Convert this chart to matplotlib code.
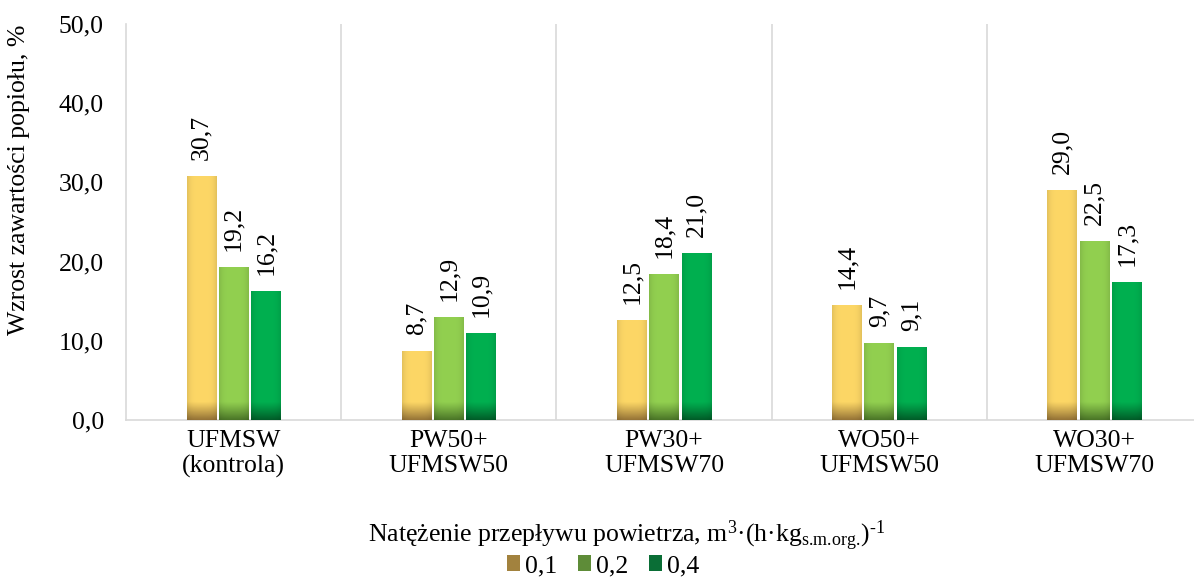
import numpy as np
import matplotlib
matplotlib.use("Agg")
import matplotlib.pyplot as plt
from matplotlib.patches import Patch

plt.rcParams['font.family'] = ['Liberation Serif', 'DejaVu Serif']
plt.rcParams['mathtext.fontset'] = 'custom'
plt.rcParams['mathtext.rm'] = 'Liberation Serif'
plt.rcParams['mathtext.it'] = 'Liberation Serif:italic'

# dane
categories = ["UFMSW\n(kontrola)", "PW50+\nUFMSW50", "PW30+\nUFMSW70", "WO50+\nUFMSW50", "WO30+\nUFMSW70"]
series_names = ["0,1", "0,2", "0,4"]
v01 = [30.7, 8.7, 12.5, 14.4, 29.0]
v02 = [19.2, 12.9, 18.4, 9.7, 22.5]
v04 = [16.2, 10.9, 21.0, 9.1, 17.3]

base_cols = ['#FDD766', '#92D050', '#00B050']
dark_cols = ['#957336', '#4A7527', '#005C28']
legend_cols = ['#A2823E', '#5E8C38', '#0A6E36']

FS = 18.5
gray = '#D9D9D9'


def to_rgb(c):
    return np.array(matplotlib.colors.to_rgb(c))


def shade_bar(ax, rect, base, dark, fade=2.3):
    # gradient: ciemny dół słupka i lekko ciemniejsze krawędzie
    x0, w, h = rect.get_x(), rect.get_width(), rect.get_height()
    ny, nx = 300, 40
    yy = np.linspace(0, h, ny)
    uu = np.linspace(0, 1, nx)
    b = np.clip(1 - yy / fade, 0, 1) ** 1.1
    e = 1 - 0.10 * (np.abs(uu - 0.5) * 2) ** 4
    cb, cd = to_rgb(base), to_rgb(dark)
    img = cb[None, None, :] * (1 - b[:, None, None]) + cd[None, None, :] * b[:, None, None]
    img = img * e[None, :, None]
    ax.imshow(np.clip(img, 0, 1), extent=(x0, x0 + w, 0, h), origin='lower',
              aspect='auto', interpolation='bilinear', zorder=3)


fig = plt.figure(figsize=(11.94, 5.78), dpi=100)
ax = fig.add_axes([126/1194, 1-420/578, 1076/1194, 396/578])

x = np.arange(len(categories))
off = 0.15
bw = 0.137
for i, vals in enumerate([v01, v02, v04]):
    bars = ax.bar(x + (i - 1) * off, vals, width=bw, color=base_cols[i], zorder=2)
    for r, v in zip(bars, vals):
        shade_bar(ax, r, base_cols[i], dark_cols[i])
        ax.annotate(f"{v:.1f}".replace('.', ','), (r.get_x() + r.get_width() / 2, v),
                    xytext=(0, 12), textcoords='offset points', rotation=90,
                    ha='center', va='bottom', fontsize=FS)

ax.vlines(np.arange(len(categories) - 1) + 0.5, 0, 50, colors=gray, lw=1.2, zorder=1)

ax.set_xlim(-0.5, len(categories) - 0.5)
ax.set_ylim(0, 50)
ax.set_yticks(np.arange(0, 51, 10))
ax.set_yticklabels([f"{t:.1f}".replace('.', ',') for t in np.arange(0, 51, 10)], fontsize=FS)
ax.set_xticks(x)
ax.set_xticklabels(categories, fontsize=FS)
ax.tick_params(axis='y', length=0, pad=16)
ax.tick_params(axis='x', length=0, pad=7)
for s in ['top', 'right']:
    ax.spines[s].set_visible(False)
for s in ['left', 'bottom']:
    ax.spines[s].set_color(gray)
    ax.spines[s].set_linewidth(1.2)

ax.set_ylabel("Wzrost zawartości popiołu, %", fontsize=FS)
ax.yaxis.set_label_coords(-0.089, (420-180)/396)

fig.text(627/1194, 1-536/578,
         r"Natężenie przepływu powietrza, m$^{3}$·(h·kg$_{\text{s.m.org.}}$)$^{\text{-1}}$",
         ha='center', va='center', fontsize=FS)

handles = [Patch(facecolor=c, edgecolor='none') for c in legend_cols]
fig.legend(handles, series_names, loc='center', bbox_to_anchor=(603/1194, 1-566/578),
           ncol=3, frameon=False, fontsize=FS, handlelength=0.5, handleheight=0.6,
           handletextpad=0.2, columnspacing=0.8, borderpad=0)

fig.savefig("out.png", dpi=100)
